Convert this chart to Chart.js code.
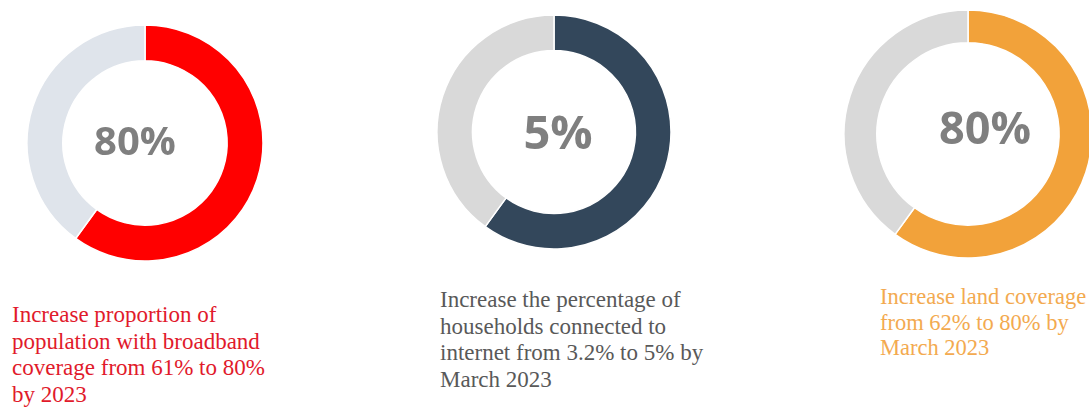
<!DOCTYPE html>
<html>
<head>
<meta charset="utf-8">
<script src="https://cdn.jsdelivr.net/npm/chart.js@4"></script>
<style>
  html, body { margin: 0; padding: 0; background: #fff; }
  body { width: 1089px; height: 412px; position: relative; overflow: hidden; }
  .ring { position: absolute; width: 260px; height: 260px; }
  .note {
    position: absolute;
    font-family: "Liberation Serif", "Times New Roman", serif;
    font-size: 23px;
    line-height: 26.5px;
    white-space: nowrap;
  }
</style>
</head>
<body>
<canvas id="ring-broadband" class="ring" style="left:15px; top:13px"></canvas>
<canvas id="ring-households" class="ring" style="left:424px; top:2px"></canvas>
<canvas id="ring-land" class="ring" style="left:838px; top:4px"></canvas>

<div class="note" style="left:12px; top:302px; color:#e11a2b">Increase proportion of<br>population with broadband<br>coverage from 61% to 80%<br>by 2023</div>
<div class="note" style="left:440px; top:287px; color:#595959">Increase the percentage of<br>households connected to<br>internet from 3.2% to 5% by<br>March 2023</div>
<div class="note" style="left:880px; top:284px; color:#f3aa50; font-size:22.5px; line-height:25.5px">Increase land coverage<br>from 62% to 80% by<br>March 2023</div>

<script>
// filled share of each ring (rest is the grey track)
var ringShare = [60, 60, 60];
var targetLabels = ["80%", "5%", "80%"];
var ringColors = ["#ff0000", "#33475b", "#f2a23a"];
var trackColors = ["#dfe4eb", "#d9d9d9", "#d9d9d9"];
var canvasIds = ["ring-broadband", "ring-households", "ring-land"];

// ring geometry and label placement per chart
var ringSizes = [
  { radius: 118, cutout: 90, font: 40, dx: -10, dy: 1 },
  { radius: 117, cutout: 90, font: 47, dx: 4, dy: 4 },
  { radius: 124, cutout: 95, font: 45, dx: 17, dy: -3 }
];

var centerLabel = {
  id: 'centerLabel',
  afterDraw: function(chart, args, opts) {
    var ctx = chart.ctx;
    var a = chart.chartArea;
    ctx.save();
    ctx.font = 'bold ' + opts.size + 'px "Open Sans", sans-serif';
    ctx.fillStyle = '#7f7f7f';
    ctx.textAlign = 'center';
    ctx.textBaseline = 'middle';
    ctx.fillText(opts.text, (a.left + a.right) / 2 + opts.dx, (a.top + a.bottom) / 2 + opts.dy);
    ctx.restore();
  }
};

for (var i = 0; i < canvasIds.length; i++) {
  var s = ringSizes[i];
  new Chart(document.getElementById(canvasIds[i]), {
    type: 'doughnut',
    data: {
      labels: ["Done", "Remaining"],
      datasets: [{
        data: [ringShare[i], 100 - ringShare[i]],
        backgroundColor: [ringColors[i], trackColors[i]],
        borderColor: '#ffffff',
        borderWidth: 1.5
      }]
    },
    options: {
      responsive: false,
      animation: false,
      radius: s.radius,
      cutout: s.cutout,
      layout: { padding: 0 },
      plugins: {
        legend: { display: false },
        tooltip: { enabled: false },
        centerLabel: { text: targetLabels[i], size: s.font, dx: s.dx, dy: s.dy }
      }
    },
    plugins: [centerLabel]
  });
}
</script>
</body>
</html>
